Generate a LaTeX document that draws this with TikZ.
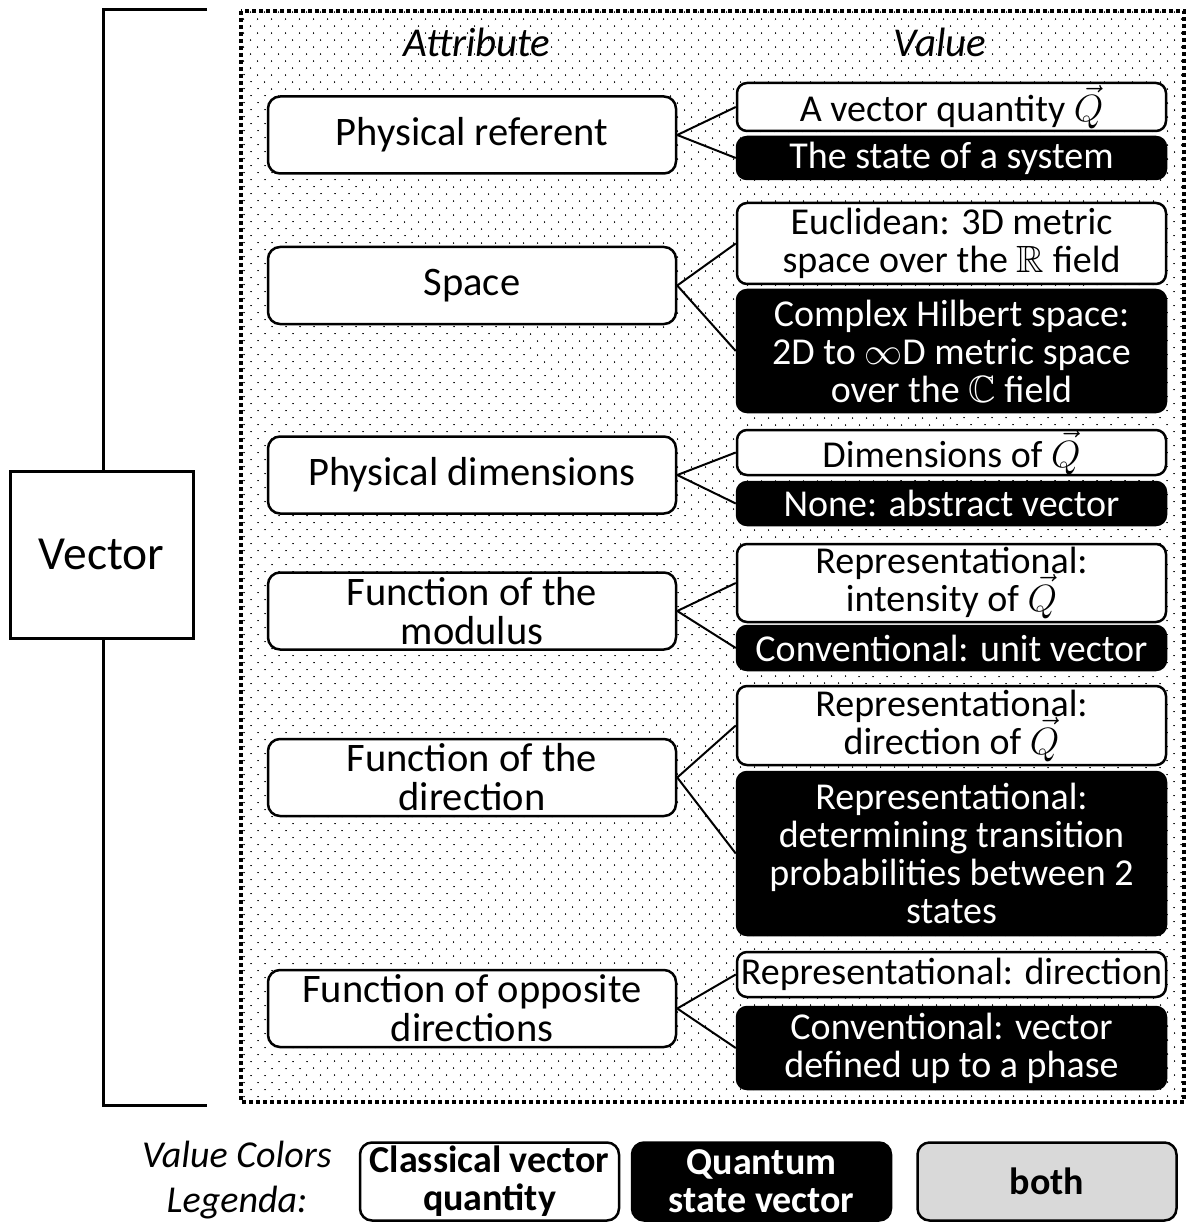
\RequirePackage{fix-cm}
\documentclass[tikz,border=0pt]{standalone}
\usepackage{amsmath,amssymb}
\usepackage{fontspec}
\setmainfont{Carlito}
\usepackage{tikz}
\usetikzlibrary{patterns.meta}

\newcommand{\Qv}{$\vec{Q}$}
\newcommand{\bodyfont}{\fontsize{38}{38}\selectfont\lineskiplimit=-100pt\relax}
\newcommand{\attrfont}{\fontsize{40.5}{39}\selectfont\lineskiplimit=-100pt\relax}

\begin{document}
\begin{tikzpicture}[x=1pt, y=-1pt,
	txt/.style={font=\bodyfont, align=center, inner sep=0pt},
	attrbox/.style={txt, font=\attrfont, draw, fill=white, line width=2.5pt, rounded corners=12pt,
		minimum width=408pt, minimum height=77pt},
	classbox/.style={txt, draw, fill=white, line width=2.5pt, rounded corners=10pt,
		minimum width=429pt},
	quantbox/.style={classbox, fill=black, text=white},
	legbox/.style={txt, draw, line width=2.5pt, rounded corners=12pt,
		minimum width=259pt, minimum height=78pt, font=\bodyfont\bfseries},
	link/.style={line width=2pt}]
	\useasboundingbox (0,0) rectangle (1189,1222);

	% dotted frame
	\fill[pattern={Dots[distance=10.5pt, angle=45, radius=0.9pt]}] (241,11) rectangle (1184,1102);
	\draw[line width=3.5pt, dash pattern=on 4pt off 3pt] (241,11) rectangle (1184,1102);

	% bracket
	\draw[line width=3pt] (207,10) -- (103,10) -- (103,1105) -- (207,1105);
	\node[draw, fill=white, line width=3pt, minimum width=183pt, minimum height=167pt,
		inner sep=0pt, font=\fontsize{47.5}{47.5}\selectfont] (vector) at (101.5,554.5) {Vector};

	\node[txt, font=\fontsize{41}{41}\selectfont\itshape] (attrhead) at (477,42) {Attribute};
	\node[txt, font=\fontsize{41}{41}\selectfont\itshape] (valhead) at (940,42) {Value};

	% attributes
	\node[attrbox] (referent) at (472,135)   {Physical referent};
	\node[attrbox] (space)    at (472,285.5) {Space};
	\node[attrbox] (dims)     at (472,475)   {Physical dimensions};
	\node[attrbox] (modulus)  at (472,611)   {Function of the\\modulus};
	\node[attrbox] (dir)      at (472,777.5) {Function of the\\direction};
	\node[attrbox] (opp)      at (472,1008.5){Function of opposite\\directions};

	% values
	\node[classbox, minimum height=48pt]  (refC) at (951.5,107)   {A vector quantity \Qv};
	\node[quantbox, minimum height=42pt]  (refQ) at (951.5,158)   {The state of a system};
	\node[classbox, minimum height=81pt]  (spaceC) at (951.5,243.5) {Euclidean: 3D metric\\space over the $\mathbb{R}$ field};
	\node[quantbox, minimum height=122pt] (spaceQ) at (951.5,351)   {Complex Hilbert space:\\2D to $\infty$D metric space\\over the $\mathbb{C}$ field};
	\node[classbox, minimum height=45pt]  (dimsC) at (951.5,452.5) {Dimensions of \Qv};
	\node[quantbox, minimum height=43pt]  (dimsQ) at (951.5,503.5) {None: abstract vector};
	\node[classbox, minimum height=78pt]  (modC) at (951.5,583)   {Representational:\\intensity of \Qv};
	\node[quantbox, minimum height=44pt]  (modQ) at (951.5,648)   {Conventional: unit vector};
	\node[classbox, minimum height=79pt]  (dirC) at (951.5,725.5) {Representational:\\direction of \Qv};
	\node[quantbox, minimum height=163pt] (dirQ) at (951.5,853.5) {Representational:\\determining transition\\probabilities between 2\\states};
	\node[classbox, minimum height=45pt]  (oppC) at (951.5,974.5) {Representational: direction};
	\node[quantbox, minimum height=82pt]  (oppQ) at (951.5,1048)  {Conventional: vector\\defined up to a phase};

	\foreach \a/\c/\q in {referent/refC/refQ, space/spaceC/spaceQ, dims/dimsC/dimsQ,
		modulus/modC/modQ, dir/dirC/dirQ, opp/oppC/oppQ} {
		\draw[link] (\a.east) -- (\c.west);
		\draw[link] (\a.east) -- (\q.west);
	}

	% legend
	\node[txt, font=\fontsize{38}{45}\selectfont\itshape] (legend) at (237,1180) {Value Colors\\Legenda:};
	\node[legbox, fill=white] (legC) at (489.5,1181.5) {Classical vector\\quantity};
	\node[legbox, fill=black, text=white] (legQ) at (761.5,1181.5) {Quantum\\state vector};
	\node[legbox, fill=black!15] (legB) at (1047,1181.5) {both};
\end{tikzpicture}
\end{document}
